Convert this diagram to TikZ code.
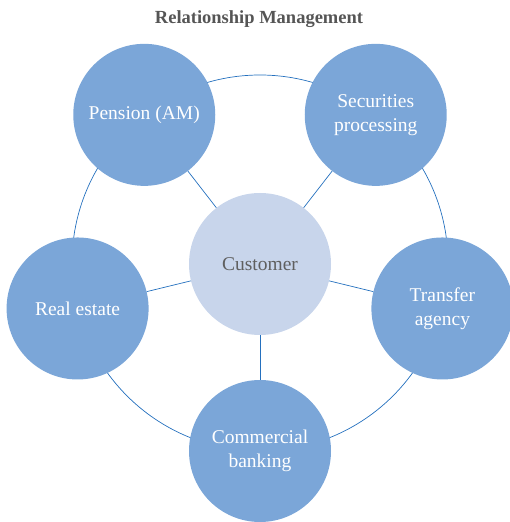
\documentclass[tikz,border=0pt]{standalone}
\usepackage{fontspec}
\setmainfont{Liberation Serif}
\usetikzlibrary{positioning}
\definecolor{ringblue}{RGB}{36,112,190}
\definecolor{petalfill}{RGB}{123,166,216}
\definecolor{hubfill}{RGB}{200,213,235}
\definecolor{hubtext}{RGB}{95,95,95}
\definecolor{titlegray}{RGB}{85,85,85}

\begin{document}
\begin{tikzpicture}[x=1pt,y=1pt,
    petal/.style={circle,fill=petalfill,minimum size=142pt,inner sep=0pt,
      text=white,align=center,font=\fontsize{19.5}{24}\selectfont},
    hub/.style={circle,fill=hubfill,minimum size=142pt,inner sep=0pt,
      text=hubtext,font=\fontsize{19.5}{24}\selectfont},
    link/.style={draw=ringblue,line width=0.7pt}]
        % Parameters
        \def\ringr{188}
        \useasboundingbox (0,0) rectangle (510,522);
        \coordinate (ctr) at (260,259);
        % Title
        \node[text=titlegray,font=\fontsize{18.5}{22}\selectfont\bfseries] (title) at (259,503) {Relationship Management};
        % Ring behind the circles
        \draw[link] (ctr) circle (\ringr);
        % Centre
        \node[hub] (cust) at (260,258) {Customer};
        % Outer circles
        \node[petal] (pens) at ([shift={(128:\ringr)}]ctr) {Pension (AM)};
        \node[petal] (secu) at ([shift={(52:\ringr)}]ctr) {Securities\\processing};
        \node[petal] (tran) at ([shift={(-14:\ringr)}]ctr) {Transfer\\agency};
        \node[petal] (comm) at ([shift={(270:\ringr)}]ctr) {Commercial\\banking};
        \node[petal] (real) at ([shift={(194:\ringr)}]ctr) {Real estate};
        % Spokes
        \foreach \p in {pens,secu,tran,comm,real}
          \draw[link] (cust) -- (\p);
    \end{tikzpicture}
\end{document}
